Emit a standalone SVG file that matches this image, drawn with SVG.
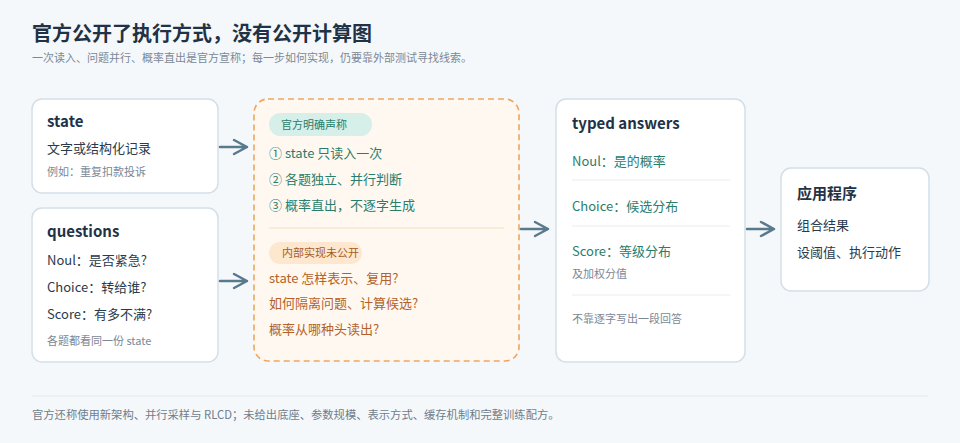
<svg xmlns="http://www.w3.org/2000/svg" width="960" height="443" viewBox="0 0 960 443">
<defs>
<style>
text{font-family:"Noto Sans CJK SC","Noto Sans",sans-serif;}
.card{fill:#ffffff;stroke:#d3dfe8;stroke-width:1.5;}
.h{font-size:15px;font-weight:700;fill:#1f3246;}
.b{font-size:13px;fill:#2b3a4a;}
.s{font-size:11px;fill:#7b8896;}
.g{font-size:13px;fill:#2a7d6c;}
.o{font-size:13px;fill:#b4622a;}
.sep{stroke:#e8eef3;stroke-width:1;}
.conn{stroke:#587a8c;stroke-width:2.5;fill:none;stroke-linecap:round;stroke-linejoin:round;}
</style>
</defs>
<rect width="960" height="443" fill="#f5f8fb"/>
<text x="32" y="41" style="font-size:20px;font-weight:700;fill:#1f3246">官方公开了执行方式，没有公开计算图</text>
<text x="32" y="62" style="font-size:11px;fill:#7b8896">一次读入、问题并行、概率直出是官方宣称；每一步如何实现，仍要靠外部测试寻找线索。</text>

<g id="state">
<rect class="card" x="32" y="99" width="186" height="94" rx="10"/>
<text class="h" x="47" y="127">state</text>
<text class="b" x="47" y="153">文字或结构化记录</text>
<text class="s" x="47" y="176">例如：重复扣款投诉</text>
</g>

<g id="questions">
<rect class="card" x="32" y="208" width="186" height="154" rx="10"/>
<text class="h" x="47" y="237">questions</text>
<text class="b" x="47" y="265">Noul：是否紧急?</text>
<text class="b" x="47" y="292">Choice：转给谁?</text>
<text class="b" x="47" y="319">Score：有多不满?</text>
<text class="s" x="47" y="345">各题都看同一份 state</text>
</g>

<g id="engine">
<rect x="254" y="99" width="265" height="262" rx="14" fill="#fff8f0" stroke="#eea65c" stroke-width="1.6" stroke-dasharray="6 4"/>
<rect x="269" y="113" width="103" height="23" rx="11.5" fill="#d6efe9"/>
<text x="281" y="129" style="font-size:11px;fill:#2a7d6c">官方明确声称</text>
<text class="g" x="269" y="158">① state 只读入一次</text>
<text class="g" x="269" y="184">② 各题独立、并行判断</text>
<text class="g" x="269" y="210">③ 概率直出，不逐字生成</text>
<line x1="269" y1="228" x2="504" y2="228" stroke="#f6dcc0" stroke-width="1.2"/>
<rect x="269" y="242" width="93" height="22" rx="11" fill="#fde7cf"/>
<text x="282" y="257" style="font-size:11px;fill:#a85c22">内部实现未公开</text>
<text class="o" x="269" y="283">state 怎样表示、复用?</text>
<text class="o" x="269" y="308">如何隔离问题、计算候选?</text>
<text class="o" x="269" y="334">概率从哪种头读出?</text>
</g>

<g id="typed-answers">
<rect class="card" x="556" y="99" width="189" height="263" rx="10"/>
<text class="h" x="572" y="129">typed answers</text>
<text class="g" x="572" y="166">Noul：是的概率</text>
<line class="sep" x1="572" y1="180" x2="730" y2="180"/>
<text class="g" x="572" y="211">Choice：候选分布</text>
<line class="sep" x1="572" y1="226" x2="730" y2="226"/>
<text class="g" x="572" y="256">Score：等级分布</text>
<text class="s" x="572" y="278">及加权分值</text>
<line class="sep" x1="572" y1="295" x2="730" y2="295"/>
<text class="s" x="572" y="323">不靠逐字写出一段回答</text>
</g>

<g id="app">
<rect class="card" x="781" y="168" width="148" height="123" rx="10"/>
<text class="h" x="797" y="199">应用程序</text>
<text class="b" x="797" y="230">组合结果</text>
<text class="b" x="797" y="257">设阈值、执行动作</text>
</g>

<g id="connectors">
<path class="conn" d="M220 147 H247 M234 140 L247 147 L234 154"/>
<path class="conn" d="M220 281 H247 M234 274 L247 281 L234 288"/>
<path class="conn" d="M521 229 H548 M535 222 L548 229 L535 236"/>
<path class="conn" d="M747 229 H774 M761 222 L774 229 L761 236"/>
</g>

<line x1="32" y1="396" x2="928" y2="396" stroke="#e3eaf0" stroke-width="1.2"/>
<text x="32" y="419" style="font-size:11.3px;fill:#6f7d8b">官方还称使用新架构、并行采样与 RLCD；未给出底座、参数规模、表示方式、缓存机制和完整训练配方。</text>
</svg>
